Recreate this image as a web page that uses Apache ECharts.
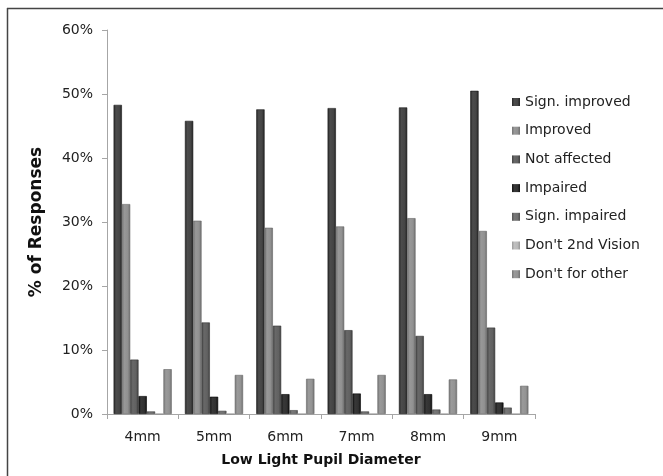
<!DOCTYPE html>
<html>
<head>
<meta charset="utf-8">
<script src="https://cdn.jsdelivr.net/npm/echarts@6/dist/echarts.min.js"></script>
<style>html,body{margin:0;padding:0;background:#fff;}#c{width:663px;height:476px;}</style>
</head>
<body>
<div id="c"></div>
<script>
var categories = ['4mm', '5mm', '6mm', '7mm', '8mm', '9mm'];
var signImproved = [48.3, 45.8, 47.6, 47.8, 47.9, 50.5];
var improved = [32.8, 30.2, 29.1, 29.3, 30.6, 28.6];
var notAffected = [8.5, 14.3, 13.8, 13.1, 12.2, 13.5];
var impaired = [2.8, 2.7, 3.1, 3.2, 3.1, 1.8];
var signImpaired = [0.4, 0.5, 0.6, 0.4, 0.7, 1.0];
var dont2ndVision = [0, 0, 0, 0, 0, 0];
var dontForOther = [7.0, 6.1, 5.5, 6.1, 5.4, 4.4];
var yTicks = [0, 10, 20, 30, 40, 50, 60];

var seriesNames = ['Sign. improved', 'Improved', 'Not affected', 'Impaired', 'Sign. impaired', "Don't 2nd Vision", "Don't for other"];
var seriesData = [signImproved, improved, notAffected, impaired, signImpaired, dont2ndVision, dontForOther];
var baseColors = ['#404040', '#8c8c8c', '#5c5c5c', '#2c2c2c', '#6c6c6c', '#b4b4b4', '#8e8e8e'];

function shade(hex, amt) {
  var n = parseInt(hex.slice(1), 16);
  var r = Math.max(0, Math.min(255, (n >> 16) + amt));
  var g = Math.max(0, Math.min(255, ((n >> 8) & 255) + amt));
  var b = Math.max(0, Math.min(255, (n & 255) + amt));
  return 'rgb(' + r + ',' + g + ',' + b + ')';
}
function grad(hex) {
  return new echarts.graphic.LinearGradient(0, 0, 1, 0, [
    {offset: 0, color: shade(hex, -25)},
    {offset: 0.3, color: shade(hex, 12)},
    {offset: 0.7, color: shade(hex, 5)},
    {offset: 1, color: shade(hex, -30)}
  ]);
}

var font = 'DejaVu Sans';
var chart = echarts.init(document.getElementById('c'), null, {renderer: 'canvas'});
chart.setOption({
  animation: false,
  backgroundColor: '#ffffff',
  textStyle: {fontFamily: font},
  grid: {left: 107, right: 128, top: 30, bottom: 62, containLabel: false},
  legend: {
    orient: 'vertical',
    left: 512,
    top: 94,
    padding: 0,
    itemWidth: 8,
    itemHeight: 8,
    itemGap: 12.7,
    icon: 'rect',
    itemStyle: {borderWidth: 0},
    textStyle: {fontFamily: font, fontSize: 14, color: '#222', lineHeight: 16},
    data: seriesNames
  },
  xAxis: {
    type: 'category',
    data: categories,
    name: 'Low Light Pupil Diameter',
    nameLocation: 'middle',
    nameGap: 39,
    nameTextStyle: {fontFamily: font, fontSize: 14, fontWeight: 'bold', color: '#111'},
    axisLine: {lineStyle: {color: '#a6a6a6', width: 1}},
    axisTick: {show: true, length: 5, lineStyle: {color: '#a6a6a6'}},
    axisLabel: {fontFamily: font, fontSize: 14, color: '#222', margin: 16},
    splitLine: {show: false}
  },
  yAxis: {
    type: 'value',
    min: yTicks[0],
    max: yTicks[yTicks.length - 1],
    interval: 10,
    name: '% of Responses',
    nameLocation: 'middle',
    nameGap: 62,
    nameRotate: 90,
    nameTextStyle: {fontFamily: font, fontSize: 17, fontWeight: 'bold', color: '#111'},
    axisLine: {show: true, lineStyle: {color: '#a6a6a6', width: 1}},
    axisTick: {show: true, length: 5, lineStyle: {color: '#a6a6a6'}},
    axisLabel: {fontFamily: font, fontSize: 14, color: '#222', margin: 14, formatter: '{value}%'},
    splitLine: {show: false}
  },
  series: seriesNames.map(function (name, i) {
    return {
      name: name,
      type: 'bar',
      data: seriesData[i],
      barGap: '0%',
      barCategoryGap: '18.5%',
      itemStyle: {color: grad(baseColors[i]), borderColor: shade(baseColors[i], -40), borderWidth: 0.6}
    };
  }),
  graphic: [
    {type: 'line', shape: {x1: 7.5, y1: 8, x2: 7.5, y2: 476}, style: {stroke: '#444', lineWidth: 1.5}},
    {type: 'line', shape: {x1: 7, y1: 8.5, x2: 663, y2: 8.5}, style: {stroke: '#444', lineWidth: 1.5}}
  ]
});
</script>
</body>
</html>
